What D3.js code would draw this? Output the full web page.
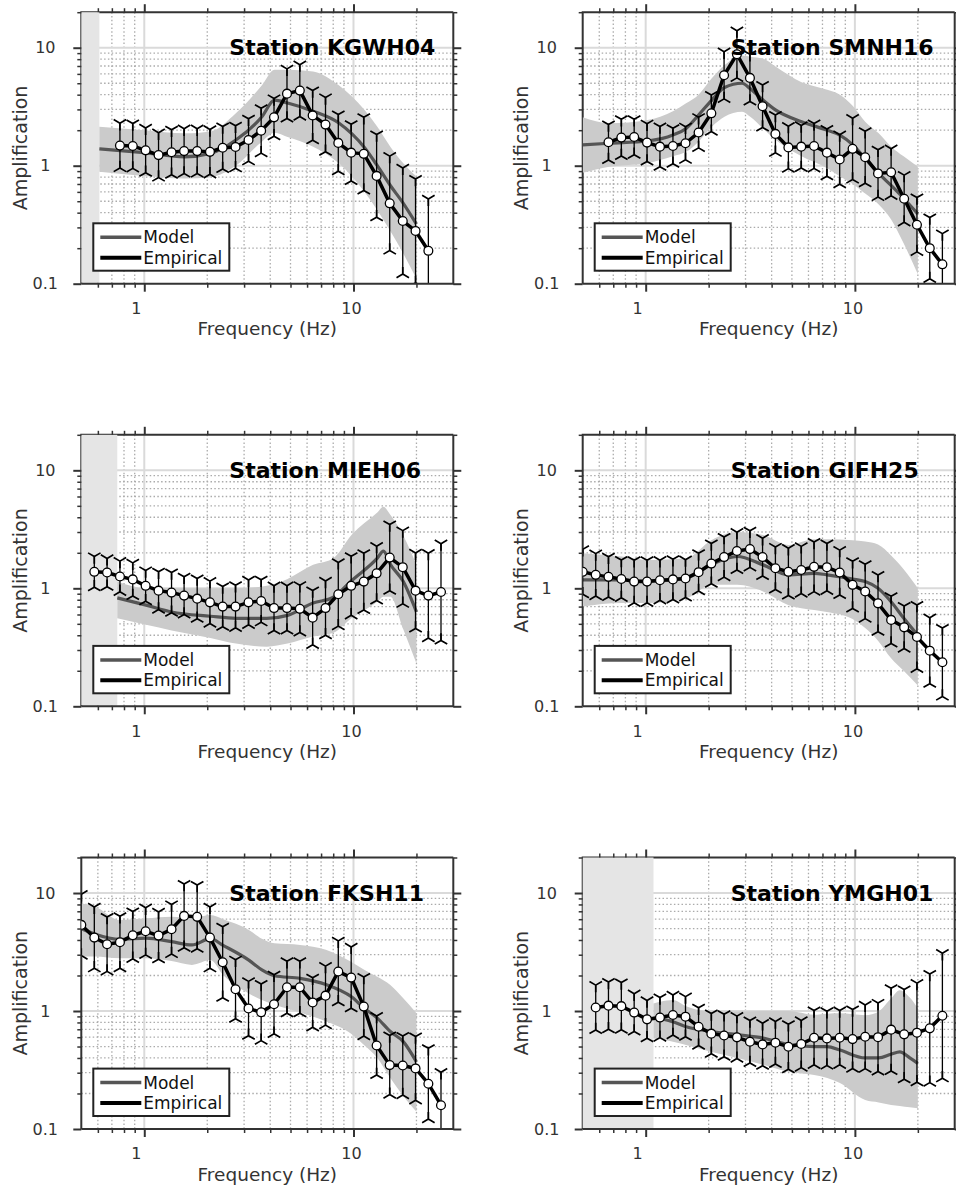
<!DOCTYPE html>
<html>
<head>
<meta charset="utf-8">
<script src="https://cdn.jsdelivr.net/npm/d3@7"></script>
<style>
  body { margin: 0; background: #fff; }
  text { font-family: "DejaVu Sans", sans-serif; }
</style>
</head>
<body>
<svg id="chart" width="956" height="1190"></svg>
<script>
// frequencies of the empirical points (Hz), shared by every station
const FREQ = [0.50, 0.577, 0.664, 0.765, 0.881, 1.015, 1.17, 1.35, 1.55, 1.79, 2.06, 2.37, 2.73, 3.15,
  3.62, 4.17, 4.81, 5.54, 6.38, 7.35, 8.46, 9.75, 11.2, 12.9, 14.9, 17.2, 19.8, 22.8, 26.2];

const X_MAJOR = [1, 10];
const X_MINOR = [0.6, 0.7, 0.8, 0.9, 2, 3, 4, 5, 6, 7, 8, 9, 20];
const Y_MAJOR = [0.1, 1, 10];
const Y_MINOR = [0.2, 0.3, 0.4, 0.5, 0.6, 0.7, 0.8, 0.9, 2, 3, 4, 5, 6, 7, 8, 9, 20];

const STATION_NAMES = ["KGWH04", "SMNH16", "MIEH06", "GIFH25", "FKSH11", "YMGH01"];
// upper edge of the grey (unused) frequency band, null = none
const SHADE_END = [0.61, null, 0.743, null, null, 1.09];

// ---- KGWH04
const KGWH04_START = 3;
const KGWH04_EMP = [1.48, 1.47, 1.35, 1.23, 1.30, 1.33, 1.33, 1.31, 1.42, 1.44, 1.65, 1.98, 2.57, 4.08,
  4.33, 2.67, 2.23, 1.56, 1.29, 1.26, 0.82, 0.48, 0.34, 0.28, 0.19];
const KGWH04_SIG = [0.19, 0.19, 0.19, 0.19, 0.19, 0.19, 0.19, 0.19, 0.18, 0.18, 0.18, 0.19, 0.16, 0.21,
  0.22, 0.21, 0.23, 0.24, 0.24, 0.31, 0.35, 0.40, 0.45, 0.44, 0.44];
const KGWH04_MF = [0.61, 1.0, 1.56, 2.07, 2.74, 3.65, 4.19, 4.84, 6.41, 8.51, 11.3, 13.0, 15.0, 17.3, 20];
const KGWH04_MODEL = [1.39, 1.29, 1.19, 1.27, 1.65, 2.6, 3.6, 3.4, 2.9, 2.3, 1.42, 1.0, 0.68, 0.48, 0.32];
const KGWH04_LO = [0.89, 0.82, 0.78, 0.80, 1.0, 1.6, 1.9, 1.75, 1.45, 1.05, 0.6, 0.42, 0.28, 0.18, 0.11];
const KGWH04_HI = [2.14, 2.0, 1.88, 1.95, 2.78, 4.8, 6.5, 6.5, 6.3, 4.8, 2.96, 2.14, 1.45, 1.05, 0.81];

// ---- SMNH16
const SMNH16_START = 2;
const SMNH16_EMP = [1.58, 1.73, 1.75, 1.57, 1.45, 1.47, 1.55, 1.91, 2.78, 5.84, 8.8, 5.55, 3.19, 1.86,
  1.43, 1.45, 1.47, 1.29, 1.13, 1.39, 1.18, 0.86, 0.88, 0.525, 0.316, 0.20, 0.146];
const SMNH16_SIG = [0.15, 0.155, 0.15, 0.16, 0.17, 0.15, 0.14, 0.13, 0.155, 0.2, 0.2, 0.2, 0.18, 0.16,
  0.18, 0.18, 0.19, 0.2, 0.21, 0.26, 0.22, 0.2, 0.2, 0.2, 0.23, 0.26, 0.26];
const SMNH16_MF = [0.5, 0.67, 1.02, 1.35, 1.56, 1.79, 2.07, 2.38, 2.89, 3.16, 3.64, 4.19, 5.56, 7.38,
  8.48, 9.78, 11.2, 13.0, 14.9, 17.1, 20];
const SMNH16_MODEL = [1.50, 1.55, 1.62, 1.82, 2.07, 2.69, 3.6, 4.6, 5.0, 4.5, 3.6, 2.96, 2.36, 2.0,
  1.82, 1.5, 1.15, 0.86, 0.68, 0.53, 0.39];
const SMNH16_LO = [0.87, 0.98, 1.05, 1.2, 1.31, 1.6, 2.14, 2.6, 2.87, 2.6, 2.07, 1.65, 1.2, 0.95,
  0.81, 0.7, 0.58, 0.47, 0.35, 0.22, 0.12];
const SMNH16_HI = [2.57, 2.29, 2.44, 2.9, 3.38, 4.0, 5.5, 7.1, 8.6, 8.4, 8.1, 6.9, 5.1, 4.4,
  4.0, 3.2, 2.36, 1.88, 1.45, 1.2, 0.98];

// ---- MIEH06
const MIEH06_START = 1;
const MIEH06_EMP = [1.38, 1.36, 1.26, 1.19, 1.05, 0.955, 0.92, 0.867, 0.817, 0.76, 0.70, 0.70, 0.76, 0.78,
  0.68, 0.68, 0.67, 0.564, 0.68, 0.89, 1.05, 1.14, 1.34, 1.82, 1.51, 0.955, 0.867, 0.93];
const MIEH06_SIG = [0.13, 0.12, 0.13, 0.14, 0.13, 0.16, 0.17, 0.16, 0.17, 0.18, 0.17, 0.18, 0.19, 0.18,
  0.19, 0.19, 0.2, 0.23, 0.23, 0.27, 0.25, 0.24, 0.23, 0.28, 0.31, 0.32, 0.36, 0.41];
const MIEH06_MF = [0.743, 1.02, 1.35, 2.07, 2.74, 3.85, 4.84, 6.41, 8.02, 9.78, 13.0, 13.9, 15.0, 17.3, 20];
const MIEH06_MODEL = [0.83, 0.72, 0.63, 0.58, 0.557, 0.557, 0.59, 0.75, 0.84, 1.16, 1.8, 2.07, 1.6, 1.14, 0.63];
const MIEH06_LO = [0.557, 0.49, 0.44, 0.38, 0.34, 0.32, 0.34, 0.39, 0.42, 0.557, 0.77, 0.85, 0.85, 0.45, 0.23];
const MIEH06_HI = [1.14, 1.0, 1.0, 1.0, 1.0, 1.05, 1.2, 1.58, 1.8, 2.83, 4.4, 4.9, 4.2, 2.8, 1.58];

// ---- GIFH25
const GIFH25_START = 0;
const GIFH25_EMP = [1.38, 1.30, 1.25, 1.20, 1.14, 1.14, 1.17, 1.19, 1.21, 1.37, 1.62, 1.84, 2.07, 2.15,
  1.84, 1.48, 1.38, 1.43, 1.52, 1.51, 1.36, 1.07, 0.94, 0.746, 0.54, 0.467, 0.387, 0.296, 0.236];
const GIFH25_SIG = [0.19, 0.18, 0.17, 0.16, 0.18, 0.18, 0.17, 0.17, 0.16, 0.16, 0.17, 0.17, 0.16, 0.155,
  0.16, 0.18, 0.2, 0.2, 0.21, 0.2, 0.19, 0.2, 0.23, 0.24, 0.2, 0.18, 0.27, 0.28, 0.29];
const GIFH25_MF = [0.5, 0.768, 1.02, 1.56, 2.07, 2.74, 3.64, 4.82, 6.39, 7.35, 9.75, 11.2, 12.9, 14.9, 17.1, 20];
const GIFH25_MODEL = [1.18, 1.18, 1.15, 1.22, 1.6, 1.86, 1.58, 1.30, 1.34, 1.30, 1.20, 1.14, 1.0, 0.77, 0.56, 0.40];
const GIFH25_LO = [0.70, 0.75, 0.75, 0.82, 1.07, 1.07, 0.94, 0.72, 0.655, 0.63, 0.55, 0.46, 0.36, 0.255, 0.2, 0.15];
const GIFH25_HI = [1.98, 1.86, 1.74, 1.80, 2.57, 3.0, 2.83, 2.33, 2.6, 2.6, 2.55, 2.49, 2.35, 1.9, 1.45, 1.0];

// ---- FKSH11
const FKSH11_START = 0;
const FKSH11_EMP = [5.37, 4.19, 3.68, 3.83, 4.39, 4.74, 4.36, 4.93, 6.40, 6.28, 4.19, 2.59, 1.53, 1.05,
  0.975, 1.14, 1.59, 1.59, 1.18, 1.35, 2.16, 1.92, 1.09, 0.51, 0.348, 0.345, 0.326, 0.242, 0.159];
const FKSH11_SIG = [0.26, 0.26, 0.23, 0.22, 0.2, 0.2, 0.2, 0.21, 0.27, 0.27, 0.26, 0.3, 0.25, 0.23,
  0.24, 0.25, 0.22, 0.22, 0.21, 0.25, 0.26, 0.26, 0.25, 0.25, 0.25, 0.25, 0.27, 0.3, 0.28];
const FKSH11_MF = [0.5, 0.579, 0.768, 1.02, 1.35, 1.69, 2.07, 2.38, 3.16, 3.65, 4.19, 5.56, 7.38, 9.78,
  11.3, 13.0, 15.0, 17.3, 20];
const FKSH11_MODEL = [5.0, 4.5, 4.05, 4.14, 3.87, 3.63, 4.1, 3.6, 2.7, 2.23, 1.99, 1.89, 1.68, 1.32,
  1.05, 0.87, 0.67, 0.55, 0.37];
const FKSH11_LO = [2.9, 2.9, 2.8, 2.8, 2.65, 2.46, 2.7, 2.02, 1.41, 1.24, 1.13, 0.97, 0.82, 0.64,
  0.51, 0.4, 0.27, 0.19, 0.14];
const FKSH11_HI = [8.2, 7.7, 5.9, 6.1, 6.3, 6.1, 6.5, 6.0, 4.87, 4.1, 3.75, 3.63, 3.3, 2.6,
  2.23, 1.95, 1.66, 1.28, 0.955];

// ---- YMGH01
const YMGH01_START = 1;
const YMGH01_EMP = [1.07, 1.11, 1.10, 0.97, 0.85, 0.88, 0.925, 0.895, 0.736, 0.643, 0.62, 0.598, 0.549, 0.521,
  0.539, 0.498, 0.525, 0.594, 0.586, 0.594, 0.578, 0.605, 0.60, 0.695, 0.634, 0.655, 0.713, 0.912];
const YMGH01_SIG = [0.19, 0.2, 0.2, 0.16, 0.16, 0.17, 0.17, 0.17, 0.16, 0.17, 0.18, 0.18, 0.18, 0.18,
  0.18, 0.19, 0.2, 0.23, 0.23, 0.23, 0.25, 0.27, 0.29, 0.35, 0.38, 0.42, 0.46, 0.53];
const YMGH01_MF = [1.09, 1.175, 1.35, 1.56, 2.07, 2.74, 3.64, 4.82, 6.39, 7.38, 8.48, 11.2, 13.0, 14.9, 16.4, 18.3, 20];
const YMGH01_MODEL = [0.866, 0.86, 0.81, 0.736, 0.67, 0.63, 0.59, 0.52, 0.50, 0.50, 0.467, 0.40, 0.40, 0.43, 0.45, 0.40, 0.36];
const YMGH01_LO = [0.586, 0.575, 0.55, 0.515, 0.45, 0.4, 0.35, 0.306, 0.287, 0.27, 0.245, 0.176, 0.168, 0.16, 0.157, 0.153, 0.15];
const YMGH01_HI = [1.16, 1.2, 1.24, 1.1, 0.99, 0.99, 1.0, 1.0, 0.93, 0.95, 0.955, 0.92, 0.99, 1.28, 1.5, 1.3, 1.05];

const stations = [
  { start: KGWH04_START, emp: KGWH04_EMP, sig: KGWH04_SIG, mf: KGWH04_MF, model: KGWH04_MODEL, lo: KGWH04_LO, hi: KGWH04_HI },
  { start: SMNH16_START, emp: SMNH16_EMP, sig: SMNH16_SIG, mf: SMNH16_MF, model: SMNH16_MODEL, lo: SMNH16_LO, hi: SMNH16_HI },
  { start: MIEH06_START, emp: MIEH06_EMP, sig: MIEH06_SIG, mf: MIEH06_MF, model: MIEH06_MODEL, lo: MIEH06_LO, hi: MIEH06_HI },
  { start: GIFH25_START, emp: GIFH25_EMP, sig: GIFH25_SIG, mf: GIFH25_MF, model: GIFH25_MODEL, lo: GIFH25_LO, hi: GIFH25_HI },
  { start: FKSH11_START, emp: FKSH11_EMP, sig: FKSH11_SIG, mf: FKSH11_MF, model: FKSH11_MODEL, lo: FKSH11_LO, hi: FKSH11_HI },
  { start: YMGH01_START, emp: YMGH01_EMP, sig: YMGH01_SIG, mf: YMGH01_MF, model: YMGH01_MODEL, lo: YMGH01_LO, hi: YMGH01_HI }
].map((s, i) => ({ ...s, name: STATION_NAMES[i], shade: SHADE_END[i] }));

// layout
const COL_X = [81.3, 582.7];
const ROW_Y = [12.2, 434.8, 857.5];
const PW = 372, PH = 271.5;
const X_DOMAIN = [0.5, 30], Y_DOMAIN = [0.1, 20];
const DARK = "#333";
const CAP_R = 7.2;

const svg = d3.select("#chart");

function triDown(cx, cy, r) {
  return `M${cx},${cy}V${cy + r}M${cx},${cy}L${cx - 0.866 * r},${cy - 0.5 * r}M${cx},${cy}L${cx + 0.866 * r},${cy - 0.5 * r}`;
}
function triUp(cx, cy, r) {
  return `M${cx},${cy}V${cy - r}M${cx},${cy}L${cx - 0.866 * r},${cy + 0.5 * r}M${cx},${cy}L${cx + 0.866 * r},${cy + 0.5 * r}`;
}

function styleAxis(sel, width) {
  sel.select(".domain").remove();
  sel.attr("font-family", null).attr("font-size", null);
  sel.selectAll("line").attr("stroke", DARK).attr("stroke-width", width);
  sel.selectAll("text").attr("fill", DARK).attr("font-size", 16);
}

stations.forEach((st, i) => {
  const x0 = COL_X[i % 2], y0 = ROW_Y[Math.floor(i / 2)];
  const x1 = x0 + PW, y1 = y0 + PH;
  const x = d3.scaleLog().domain(X_DOMAIN).range([x0, x1]);
  const y = d3.scaleLog().domain(Y_DOMAIN).range([y1, y0]);
  const g = svg.append("g");

  const clipId = "clip" + i;
  svg.append("clipPath").attr("id", clipId)
    .append("rect").attr("x", x0).attr("y", y0).attr("width", PW).attr("height", PH);

  // grid
  const grid = g.append("g");
  grid.selectAll(".vmin").data(X_MINOR).join("line")
    .attr("x1", d => x(d)).attr("x2", d => x(d)).attr("y1", y0).attr("y2", y1)
    .attr("stroke", "#ababab").attr("stroke-width", 1.3).attr("stroke-dasharray", "1.5,2.3");
  grid.selectAll(".hmin").data(Y_MINOR.filter(d => d < 20)).join("line")
    .attr("x1", x0).attr("x2", x1).attr("y1", d => y(d)).attr("y2", d => y(d))
    .attr("stroke", "#ababab").attr("stroke-width", 1.3).attr("stroke-dasharray", "1.5,2.3");
  grid.selectAll(".vmaj").data(X_MAJOR).join("line")
    .attr("x1", d => x(d)).attr("x2", d => x(d)).attr("y1", y0).attr("y2", y1)
    .attr("stroke", "#dadada").attr("stroke-width", 2);
  grid.selectAll(".hmaj").data(Y_MAJOR.slice(1)).join("line")
    .attr("x1", x0).attr("x2", x1).attr("y1", d => y(d)).attr("y2", d => y(d))
    .attr("stroke", "#dadada").attr("stroke-width", 2);

  // left and top spines (partly hidden by the grey band)
  g.append("path").attr("d", `M${x0},${y1}V${y0}H${x1}`)
    .attr("fill", "none").attr("stroke", DARK).attr("stroke-width", 2);

  if (st.shade) {
    g.append("rect").attr("x", x0).attr("y", y0)
      .attr("width", x(st.shade) - x0).attr("height", PH - 1)
      .attr("fill", "#e5e5e5");
  }

  const data = g.append("g").attr("clip-path", `url(#${clipId})`);
  const model = st.mf.map((f, k) => ({ f, v: st.model[k], lo: st.lo[k], hi: st.hi[k] }));
  const emp = st.emp.map((v, k) => ({ f: FREQ[st.start + k], v, s: st.sig[k] }));

  data.append("path").datum(model)
    .attr("d", d3.area().x(d => x(d.f)).y0(d => y(d.lo)).y1(d => y(d.hi)).curve(d3.curveMonotoneX))
    .attr("fill", "#cbcbcb");
  data.append("path").datum(model)
    .attr("d", d3.line().x(d => x(d.f)).y(d => y(d.v)).curve(d3.curveMonotoneX))
    .attr("fill", "none").attr("stroke", "#555").attr("stroke-width", 3.2);

  // error bars with three-pronged caps
  const eb = data.append("g").attr("stroke", "#000").attr("fill", "none");
  eb.selectAll(".bar").data(emp).join("line")
    .attr("x1", d => x(d.f)).attr("x2", d => x(d.f))
    .attr("y1", d => y(d.v * Math.pow(10, d.s))).attr("y2", d => y(d.v / Math.pow(10, d.s)))
    .attr("stroke-width", 1.3);
  eb.selectAll(".capTop").data(emp).join("path")
    .attr("d", d => triDown(x(d.f), y(d.v * Math.pow(10, d.s)), CAP_R))
    .attr("stroke-width", 1.7);
  eb.selectAll(".capBot").data(emp).join("path")
    .attr("d", d => triUp(x(d.f), y(d.v / Math.pow(10, d.s)), CAP_R))
    .attr("stroke-width", 1.7);

  data.append("path").datum(emp)
    .attr("d", d3.line().x(d => x(d.f)).y(d => y(d.v)))
    .attr("fill", "none").attr("stroke", "#000").attr("stroke-width", 3.5);
  data.selectAll(".pt").data(emp).join("circle")
    .attr("cx", d => x(d.f)).attr("cy", d => y(d.v)).attr("r", 4.4)
    .attr("fill", "#fff").attr("stroke", "#000").attr("stroke-width", 1.3);

  // bottom and right spines
  g.append("path").attr("d", `M${x0},${y1}H${x1}V${y0}`)
    .attr("fill", "none").attr("stroke", DARK).attr("stroke-width", 2);

  // ticks
  const fmt = d3.format("~g");
  const bMaj = g.append("g").attr("transform", `translate(0,${y1})`)
    .call(d3.axisBottom(x).tickValues(X_MAJOR).tickSize(8).tickPadding(11).tickFormat(fmt));
  styleAxis(bMaj, 2);
  bMaj.selectAll("text").attr("dx", d => d === 1 ? -8.5 : -2.5);
  styleAxis(g.append("g").attr("transform", `translate(0,${y1})`)
    .call(d3.axisBottom(x).tickValues(X_MINOR).tickSize(4).tickFormat("")), 1.5);
  styleAxis(g.append("g").attr("transform", `translate(0,${y0})`)
    .call(d3.axisTop(x).tickValues(X_MAJOR).tickSize(8).tickFormat("")), 2);
  styleAxis(g.append("g").attr("transform", `translate(0,${y0})`)
    .call(d3.axisTop(x).tickValues(X_MINOR).tickSize(4).tickFormat("")), 1.5);

  const lMaj = g.append("g").attr("transform", `translate(${x0},0)`)
    .call(d3.axisLeft(y).tickValues(Y_MAJOR).tickSize(8).tickFormat(fmt));
  styleAxis(lMaj, 2);
  lMaj.selectAll("text").attr("text-anchor", "middle").attr("x", -36);
  styleAxis(g.append("g").attr("transform", `translate(${x0},0)`)
    .call(d3.axisLeft(y).tickValues(Y_MINOR).tickSize(4).tickFormat("")), 1.5);
  styleAxis(g.append("g").attr("transform", `translate(${x1},0)`)
    .call(d3.axisRight(y).tickValues(Y_MAJOR).tickSize(8).tickFormat("")), 2);
  styleAxis(g.append("g").attr("transform", `translate(${x1},0)`)
    .call(d3.axisRight(y).tickValues(Y_MINOR).tickSize(4).tickFormat("")), 1.5);

  // axis labels
  g.append("text").attr("x", x0 + PW / 2).attr("y", y1 + 51.5)
    .attr("text-anchor", "middle").attr("font-size", 18.5).attr("fill", DARK)
    .text("Frequency (Hz)");
  g.append("text")
    .attr("transform", `translate(${x0 - 54.5},${y0 + PH / 2}) rotate(-90)`)
    .attr("text-anchor", "middle").attr("font-size", 19).attr("fill", DARK)
    .text("Amplification");

  // station title
  g.append("text").attr("x", x0 + 148).attr("y", y0 + 43)
    .attr("font-size", 22).attr("font-weight", "bold").attr("fill", "#000")
    .text("Station " + st.name);

  // legend
  const lg = g.append("g").attr("transform", `translate(${x0 + 12},${y1 - 60.4})`);
  lg.append("rect").attr("width", 136).attr("height", 47.4)
    .attr("fill", "#fff").attr("stroke", "#222").attr("stroke-width", 2);
  [["Model", "#555", 3.5], ["Empirical", "#000", 4]].forEach(([label, color, w], r) => {
    const ly = 14 + r * 20.4;
    lg.append("line").attr("x1", 7).attr("x2", 48).attr("y1", ly).attr("y2", ly)
      .attr("stroke", color).attr("stroke-width", w);
    lg.append("text").attr("x", 50).attr("y", ly).attr("dy", "0.36em")
      .attr("font-size", 17).attr("fill", "#111").text(label);
  });
});
</script>
</body>
</html>
